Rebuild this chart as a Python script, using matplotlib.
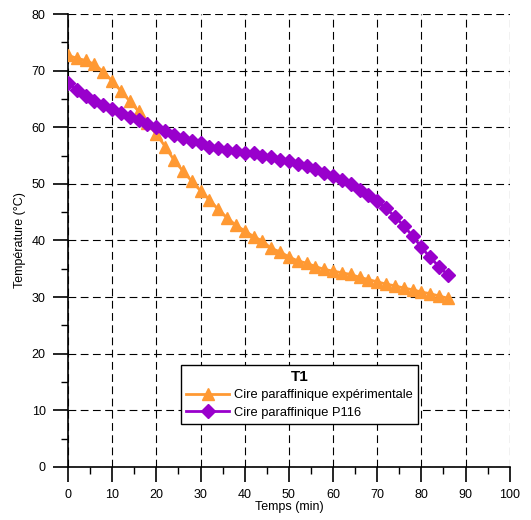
import matplotlib
matplotlib.use("Agg")
import matplotlib.pyplot as plt
import numpy as np
from matplotlib.ticker import MultipleLocator

plt.rcParams["font.family"] = ["Liberation Sans", "DejaVu Sans"]
plt.rcParams["font.size"] = 9

# temps (min), un point toutes les 2 min
temps = np.arange(0, 88, 2)

# Cire paraffinique expérimentale
t_exp = [72.7, 72.2, 71.8, 71.1, 69.8, 68.2, 66.4, 64.6, 62.8, 60.7,
         58.8, 56.6, 54.2, 52.3, 50.5, 48.8, 47.2, 45.5, 44.0, 42.7,
         41.7, 40.7, 39.9, 38.6, 38.0, 37.1, 36.4, 36.0, 35.4, 34.9,
         34.6, 34.3, 34.0, 33.5, 33.1, 32.7, 32.3, 32.0, 31.6, 31.3,
         30.9, 30.6, 30.2, 29.8]

# Cire paraffinique P116
t_p116 = [67.9, 66.6, 65.5, 64.7, 64.0, 63.3, 62.6, 61.9, 61.2, 60.6,
          60.0, 59.3, 58.7, 58.1, 57.6, 57.2, 56.6, 56.3, 56.0, 55.8,
          55.5, 55.4, 54.9, 54.7, 54.3, 54.1, 53.6, 53.2, 52.6, 52.0,
          51.4, 50.7, 50.0, 49.0, 48.0, 47.0, 45.7, 44.2, 42.6, 40.8,
          38.8, 37.0, 35.4, 33.9]

fig = plt.figure(figsize=(5.31, 5.2), dpi=100)
ax = fig.add_axes([0.128, 0.102, 0.832, 0.871])

ax.plot(temps, t_exp, color="#FF9933", lw=2, marker="^", ms=8.5,
        label="Cire paraffinique expérimentale", zorder=3)
ax.plot(temps, t_p116, color="#9900CC", lw=2, marker="D", ms=7,
        label="Cire paraffinique P116", zorder=3)

ax.set_xlim(0, 100)
ax.set_ylim(0, 80)
ax.xaxis.set_major_locator(MultipleLocator(10))
ax.xaxis.set_minor_locator(MultipleLocator(5))
ax.yaxis.set_major_locator(MultipleLocator(10))
ax.yaxis.set_minor_locator(MultipleLocator(5))

ax.spines["top"].set_visible(False)
ax.spines["right"].set_visible(False)
ax.spines["left"].set_linewidth(1.2)
ax.spines["bottom"].set_linewidth(1.2)
ax.tick_params(which="major", direction="out", length=11, width=1.2, pad=5)
ax.tick_params(which="minor", direction="out", length=5, width=1)

ax.grid(True, which="major", color="black", lw=0.8, linestyle=(0, (7, 4)))
ax.set_axisbelow(True)

ax.set_xlabel("Temps (min)", labelpad=0)
ax.set_ylabel("Température (°C)", labelpad=4)

leg = ax.legend(title="T1", loc="upper left", bbox_to_anchor=(0.256, 0.225),
                borderaxespad=0, handlelength=3.3, handletextpad=0.4,
                fancybox=False, framealpha=1, edgecolor="black",
                labelspacing=0.4, borderpad=0.4, fontsize=9.3,
                title_fontproperties={"weight": "bold", "size": 11})
leg.get_frame().set_linewidth(1)

fig.savefig("out.png", dpi=100)
